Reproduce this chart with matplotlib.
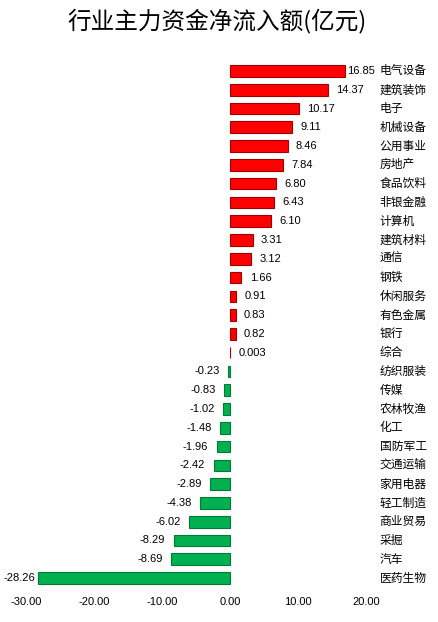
import numpy as np
import matplotlib
matplotlib.use("Agg")
import matplotlib.pyplot as plt

plt.rcParams['font.family'] = ['Liberation Sans', 'Noto Sans CJK SC']
plt.rcParams['axes.unicode_minus'] = False

# 行业 / 净流入额(亿元), 从上到下
hangye = ["电气设备", "建筑装饰", "电子", "机械设备", "公用事业", "房地产",
          "食品饮料", "非银金融", "计算机", "建筑材料", "通信", "钢铁",
          "休闲服务", "有色金属", "银行", "综合", "纺织服装", "传媒",
          "农林牧渔", "化工", "国防军工", "交通运输", "家用电器", "轻工制造",
          "商业贸易", "采掘", "汽车", "医药生物"]
jinge = [16.85, 14.37, 10.17, 9.11, 8.46, 7.84, 6.80, 6.43, 6.10, 3.31,
         3.12, 1.66, 0.91, 0.83, 0.82, 0.003, -0.23, -0.83, -1.02, -1.48,
         -1.96, -2.42, -2.89, -4.38, -6.02, -8.29, -8.69, -28.26]
xticks = [-30, -20, -10, 0, 10, 20]

fig = plt.figure(figsize=(4.38, 6.22), dpi=100)
ax = fig.add_axes([0.0594, 0.0556, 0.9315, 0.8454])

y = np.arange(len(jinge))
v = np.array(jinge)
cols = np.where(v >= 0, "#FF0000", "#00B050")
edges = np.where(v >= 0, "#A00000", "#007A35")
ax.barh(y, v, height=0.62, color=cols, edgecolor=edges, linewidth=0.8)

for i, val in enumerate(jinge):
    txt = "%.3f" % val if abs(val) < 0.01 else "%.2f" % val
    pad = 2 if abs(val) > 15 else 6
    if val >= 0:
        ax.annotate(txt, (val, i), xytext=(pad, 0), textcoords="offset points",
                    ha="left", va="center", fontsize=8)
    else:
        ax.annotate(txt, (val, i), xytext=(-pad, 0), textcoords="offset points",
                    ha="right", va="center", fontsize=8)
    ax.text(22.0, i, hangye[i], ha="left", va="center", fontsize=8.5,
            family=['Noto Sans CJK SC'])

ax.set_xlim(-30, 30)
ax.set_ylim(len(jinge) - 0.5, -0.5)
ax.set_xticks(xticks)
ax.set_xticklabels(["%.2f" % t for t in xticks], fontsize=8)
ax.set_yticks([])
ax.tick_params(axis="x", length=0, pad=7)
for s in ax.spines.values():
    s.set_visible(False)

fig.text(0.495, 0.966, "行业主力资金净流入额(亿元)", ha="center", va="center",
         fontsize=17, family=['Noto Sans CJK SC'])

fig.savefig("out.png", dpi=100)
